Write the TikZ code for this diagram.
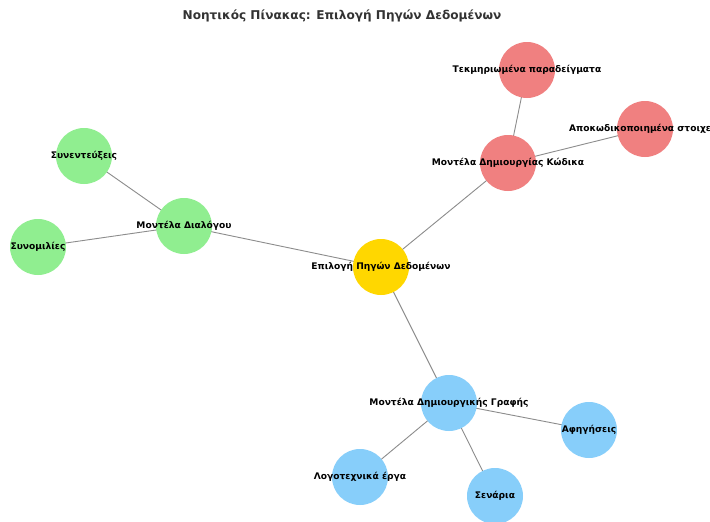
\documentclass[tikz,border=0pt]{standalone}
\usepackage{fontspec}
\setmainfont{DejaVu Sans}
\definecolor{hubgold}{HTML}{FFD700}
\definecolor{coral}{HTML}{F08080}
\definecolor{mint}{HTML}{90EE90}
\definecolor{sky}{HTML}{87CEFA}
\definecolor{titlegray}{HTML}{333333}
\tikzset{
  bubble/.style={circle, minimum size=56pt, inner sep=0pt},
  lbl/.style={font=\bfseries\fontsize{9.1}{11}\selectfont, text=black, inner sep=0pt},
  link/.style={draw=gray!90, line width=0.9pt},
}
\begin{document}
\begin{tikzpicture}[x=1pt, y=-1pt]
\useasboundingbox (0,0) rectangle (710,522);
\clip (0,0) rectangle (710,522);
\fill[white] (0,0) rectangle (710,522);
% node positions
\coordinate (root) at (381,267);
\coordinate (code) at (508,163);
\coordinate (docs) at (527,70);
\coordinate (dec) at (645,129);
\coordinate (dlg) at (184,226);
\coordinate (intv) at (84,156);
\coordinate (conv) at (38,247);
\coordinate (crea) at (449,403);
\coordinate (narr) at (589,430);
\coordinate (lit) at (360,477);
\coordinate (scr) at (495,496);
% connectors
\draw[link] (root) -- (code);
\draw[link] (root) -- (dlg);
\draw[link] (root) -- (crea);
\draw[link] (code) -- (docs);
\draw[link] (code) -- (dec);
\draw[link] (dlg) -- (intv);
\draw[link] (dlg) -- (conv);
\draw[link] (crea) -- (narr);
\draw[link] (crea) -- (lit);
\draw[link] (crea) -- (scr);
% circles
\node[bubble, fill=hubgold] (nroot) at (root) {};
\node[bubble, fill=coral] (ncode) at (code) {};
\node[bubble, fill=coral] (ndocs) at (docs) {};
\node[bubble, fill=coral] (ndec) at (dec) {};
\node[bubble, fill=mint] (ndlg) at (dlg) {};
\node[bubble, fill=mint] (nintv) at (intv) {};
\node[bubble, fill=mint] (nconv) at (conv) {};
\node[bubble, fill=sky] (ncrea) at (crea) {};
\node[bubble, fill=sky] (nnarr) at (narr) {};
\node[bubble, fill=sky] (nlit) at (lit) {};
\node[bubble, fill=sky] (nscr) at (scr) {};
% labels
\node[lbl] (troot) at (root) {Επιλογή Πηγών Δεδομένων};
\node[lbl] (tcode) at (code) {Μοντέλα Δημιουργίας Κώδικα};
\node[lbl] (tdocs) at (docs) {Τεκμηριωμένα παραδείγματα};
\node[lbl] (tdec) at (dec) {Αποκωδικοποιημένα στοιχεία};
\node[lbl] (tdlg) at (dlg) {Μοντέλα Διαλόγου};
\node[lbl] (tintv) at (intv) {Συνεντεύξεις};
\node[lbl] (tconv) at (conv) {Συνομιλίες};
\node[lbl] (tcrea) at (crea) {Μοντέλα Δημιουργικής Γραφής};
\node[lbl] (tnarr) at (narr) {Αφηγήσεις};
\node[lbl] (tlit) at (lit) {Λογοτεχνικά έργα};
\node[lbl] (tscr) at (scr) {Σενάρια};
% title
\node[font=\bfseries\fontsize{12.1}{14}\selectfont, text=titlegray] (title) at (342,16) {Νοητικός Πίνακας: Επιλογή Πηγών Δεδομένων};
\end{tikzpicture}
\end{document}
